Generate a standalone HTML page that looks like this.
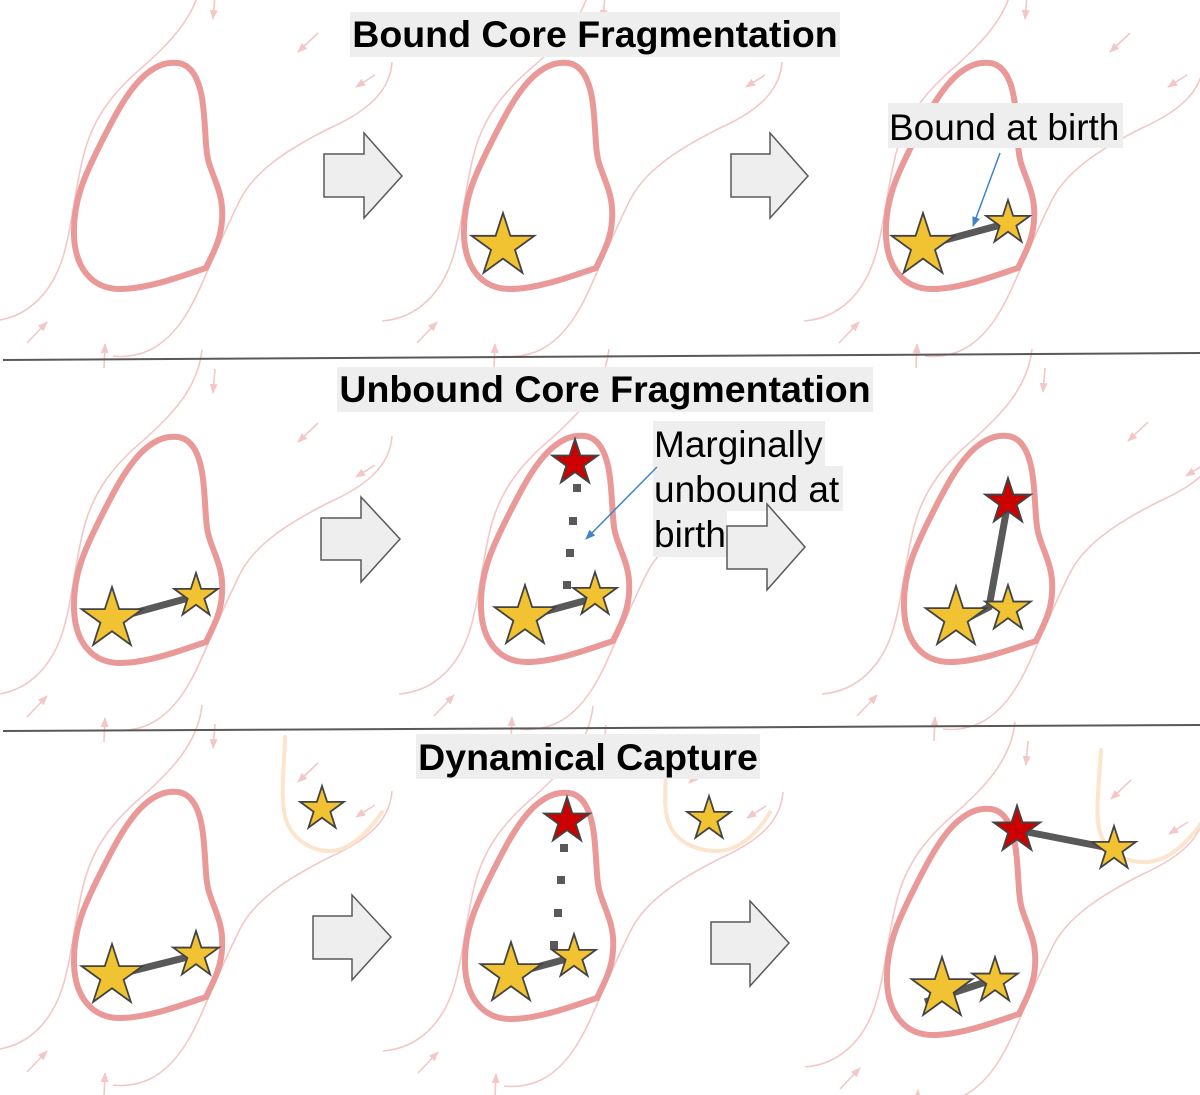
<!DOCTYPE html>
<html>
<head>
<meta charset="utf-8">
<style>
html,body{margin:0;padding:0;background:#ffffff;}
svg{display:block;}
</style>
</head>
<body>
<svg width="1200" height="1095" viewBox="0 0 1200 1095" xmlns="http://www.w3.org/2000/svg" xmlns:xlink="http://www.w3.org/1999/xlink" font-family="'Liberation Sans', Arial, sans-serif">
<defs>
  <marker id="pa" markerWidth="10" markerHeight="8" refX="9" refY="4" orient="auto" markerUnits="userSpaceOnUse">
    <path d="M0,0 L10,4 L0,8 z" fill="#f4c7c7"/>
  </marker>
  <marker id="ba" markerWidth="10" markerHeight="8" refX="9" refY="4" orient="auto" markerUnits="userSpaceOnUse">
    <path d="M0,0 L10,4 L0,8 z" fill="#3d85c6"/>
  </marker>
  <g id="sl" fill="none" stroke="#f4c7c7" stroke-width="1.6">
    <path d="M202,-24 C198,15 170,42 145,65 C115,90 95,115 85,150 C75,185 72,230 62,260 C52,290 30,318 -8,321"/>
    <path d="M392,62 C390,90 370,110 330,128 C290,148 255,170 240,200 C225,230 215,255 207,272 C195,300 180,335 150,350 C135,357 120,357 113,356"/>
    <path d="M215,-5 L213,19" marker-end="url(#pa)"/>
    <path d="M27,343 L47,322" marker-end="url(#pa)"/>
    <path d="M104,368 L105,344" marker-end="url(#pa)"/>
  </g>
  <g id="ta" fill="none" stroke="#f4c7c7" stroke-width="1.6">
    <path d="M318,33 L298,52" marker-end="url(#pa)"/>
    <path d="M375,75 L356,87" marker-end="url(#pa)"/>
  </g>
  <path id="ol" d="M206,268 C190,273 150,289 120,289 C92,289 75,268 74,235 C73,200 85,175 100,145 C115,115 128,90 145,75 C158,64 168,62 178,63 C192,65 200,80 203,105 C206,130 205,150 209,163 C214,180 224,195 222,220 C221,240 212,255 206,268 Z" fill="none" stroke="#ea9999" stroke-width="6" stroke-linejoin="miter"/>
  <polygon id="st" points="0,-100 22.45,-30.9 95.1,-30.9 36.33,11.8 58.8,80.9 0,38.2 -58.8,80.9 -36.33,11.8 -95.1,-30.9 -22.45,-30.9"/>
</defs>

<!-- streamlines -->
<use href="#sl" transform="translate(0,0)"/>
<use href="#sl" transform="translate(390,0)"/>
<use href="#sl" transform="translate(812,0)"/>
<use href="#sl" transform="translate(0,374)"/>
<use href="#sl" transform="translate(407,373)"/>
<use href="#sl" transform="translate(830,373)"/>
<use href="#sl" transform="translate(0,729)"/>
<use href="#sl" transform="translate(391,730)"/>
<use href="#sl" transform="translate(813,746)"/>

<use href="#ta" transform="translate(0,0)"/>
<use href="#ta" transform="translate(390,0)"/>
<use href="#ta" transform="translate(812,0)"/>
<use href="#ta" transform="translate(0,390)"/>
<use href="#ta" transform="translate(407,389)"/>
<use href="#ta" transform="translate(830,389)"/>
<use href="#ta" transform="translate(0,730)"/>
<use href="#ta" transform="translate(391,731)"/>
<use href="#ta" transform="translate(813,747)"/>

<!-- orange U curves (row 3) -->
<g fill="none" stroke="#fce5cd" stroke-width="4" stroke-linecap="round">
  <path d="M285,737 C284,770 280,800 286,820 C293,840 312,851 330,851 C350,851 370,830 382,812"/>
  <path d="M666,770 C665,795 663,815 672,830 C682,845 700,851 717,851 C740,851 760,830 770,812"/>
  <path d="M1101,750 C1099,790 1093,820 1103,840 C1113,858 1133,863 1148,862 C1170,860 1188,842 1202,822"/>
</g>

<!-- core outlines -->
<use href="#ol" transform="translate(0,0)"/>
<use href="#ol" transform="translate(390,0)"/>
<use href="#ol" transform="translate(812,0)"/>
<use href="#ol" transform="translate(0,374)"/>
<use href="#ol" transform="translate(407,373)"/>
<use href="#ol" transform="translate(830,373)"/>
<use href="#ol" transform="translate(0,729)"/>
<use href="#ol" transform="translate(391,730)"/>
<use href="#ol" transform="translate(813,746)"/>

<!-- separators -->
<line x1="3" y1="360" x2="1200" y2="353" stroke="#595959" stroke-width="2"/>
<line x1="3" y1="731" x2="1200" y2="725" stroke="#595959" stroke-width="2"/>

<!-- title boxes -->
<rect x="350" y="12" width="490" height="45" fill="#eeeeee"/>
<text x="595" y="47" text-anchor="middle" font-weight="bold" font-size="37.5" fill="#000">Bound Core Fragmentation</text>
<rect x="337" y="367" width="536" height="45" fill="#eeeeee"/>
<text x="605" y="402" text-anchor="middle" font-weight="bold" font-size="37.5" fill="#000">Unbound Core Fragmentation</text>
<rect x="416" y="734" width="344" height="45" fill="#eeeeee"/>
<text x="588" y="770" text-anchor="middle" font-weight="bold" font-size="37.5" fill="#000">Dynamical Capture</text>

<!-- labels -->
<rect x="888" y="103" width="235" height="45" fill="#eeeeee"/>
<text x="889" y="140" font-size="37" fill="#000">Bound at birth</text>

<rect x="653" y="421" width="172" height="45" fill="#eeeeee"/>
<rect x="653" y="466" width="190" height="45" fill="#eeeeee"/>
<rect x="653" y="511" width="74" height="46" fill="#eeeeee"/>
<text x="654" y="457" font-size="37" fill="#000">Marginally</text>
<text x="654" y="502" font-size="37" fill="#000">unbound at</text>
<text x="654" y="547" font-size="37" fill="#000">birth</text>

<!-- block arrows -->
<g fill="#eeeeee" stroke="#595959" stroke-width="1.5" stroke-linejoin="miter">
  <polygon points="324,154 364,154 364,133 402,176 364,218 364,197 324,197"/>
  <polygon points="731,154 770,154 770,133 808,176 770,218 770,197 731,197"/>
  <polygon points="321,518 361,518 361,497 400,539 361,582 361,560 321,560"/>
  <polygon points="727,526 767,526 767,504 805,547 767,590 767,569 727,569"/>
  <polygon points="313,916 352,916 352,895 391,937 352,980 352,959 313,959"/>
  <polygon points="711,922 750,922 750,901 789,943 750,986 750,964 711,964"/>
</g>

<!-- connectors -->
<g stroke="#595959" stroke-width="7" stroke-linecap="butt" fill="none">
  <line x1="923" y1="246" x2="1008" y2="223"/>
  <line x1="112" y1="619" x2="196" y2="596"/>
  <line x1="525" y1="617" x2="595" y2="598"/>
  <polyline points="1008,502 989,607 960,622"/>
  <line x1="112" y1="976" x2="196" y2="955"/>
  <line x1="511" y1="974" x2="574" y2="957"/>
  <line x1="1017" y1="830" x2="1114" y2="849"/>
  <line x1="925" y1="1002" x2="995" y2="979"/>
</g>

<!-- dotted lines -->
<g fill="#595959">
  <rect x="573" y="484" width="8" height="8"/>
  <rect x="569" y="517" width="8" height="8"/>
  <rect x="566" y="549" width="8" height="8"/>
  <rect x="563" y="581" width="8" height="8"/>
  <rect x="560" y="844" width="8" height="8"/>
  <rect x="557" y="876" width="8" height="8"/>
  <rect x="554" y="909" width="8" height="8"/>
  <rect x="550" y="941" width="8" height="8"/>
</g>

<!-- stars -->
<g stroke="#434343" stroke-linejoin="miter">
  <use href="#st" transform="translate(503,246) scale(0.33)" fill="#f1c232" stroke-width="5.5"/>
  <use href="#st" transform="translate(923,246) scale(0.33)" fill="#f1c232" stroke-width="5.5"/>
  <use href="#st" transform="translate(1008,223) scale(0.23)" fill="#f1c232" stroke-width="7.8"/>

  <use href="#st" transform="translate(112,619) scale(0.32)" fill="#f1c232" stroke-width="5.6"/>
  <use href="#st" transform="translate(196,596) scale(0.23)" fill="#f1c232" stroke-width="7.8"/>
  <use href="#st" transform="translate(525,617) scale(0.32)" fill="#f1c232" stroke-width="5.6"/>
  <use href="#st" transform="translate(595,595) scale(0.23)" fill="#f1c232" stroke-width="7.8"/>
  <use href="#st" transform="translate(575,463) scale(0.24)" fill="#cc0000" stroke-width="7.5"/>
  <use href="#st" transform="translate(956,618) scale(0.32)" fill="#f1c232" stroke-width="5.6"/>
  <use href="#st" transform="translate(1008,609) scale(0.24)" fill="#f1c232" stroke-width="7.5"/>
  <use href="#st" transform="translate(1008,502) scale(0.24)" fill="#cc0000" stroke-width="7.5"/>

  <use href="#st" transform="translate(112,976) scale(0.32)" fill="#f1c232" stroke-width="5.6"/>
  <use href="#st" transform="translate(196,955) scale(0.24)" fill="#f1c232" stroke-width="7.5"/>
  <use href="#st" transform="translate(322,809) scale(0.23)" fill="#f1c232" stroke-width="7.8"/>
  <use href="#st" transform="translate(511,974) scale(0.32)" fill="#f1c232" stroke-width="5.6"/>
  <use href="#st" transform="translate(574,957) scale(0.23)" fill="#f1c232" stroke-width="7.8"/>
  <use href="#st" transform="translate(567,821) scale(0.24)" fill="#cc0000" stroke-width="7.5"/>
  <use href="#st" transform="translate(709,819) scale(0.23)" fill="#f1c232" stroke-width="7.8"/>
  <use href="#st" transform="translate(942,989) scale(0.32)" fill="#f1c232" stroke-width="5.6"/>
  <use href="#st" transform="translate(995,981) scale(0.24)" fill="#f1c232" stroke-width="7.5"/>
  <use href="#st" transform="translate(1017,830) scale(0.245)" fill="#cc0000" stroke-width="7.3"/>
  <use href="#st" transform="translate(1114,849) scale(0.23)" fill="#f1c232" stroke-width="7.8"/>
</g>

<!-- blue annotation arrows -->
<path d="M1000,153 L973,226" stroke="#3d85c6" stroke-width="1.5" fill="none" marker-end="url(#ba)"/>
<path d="M657,467 L586,539" stroke="#3d85c6" stroke-width="1.5" fill="none" marker-end="url(#ba)"/>
</svg>
</body>
</html>
